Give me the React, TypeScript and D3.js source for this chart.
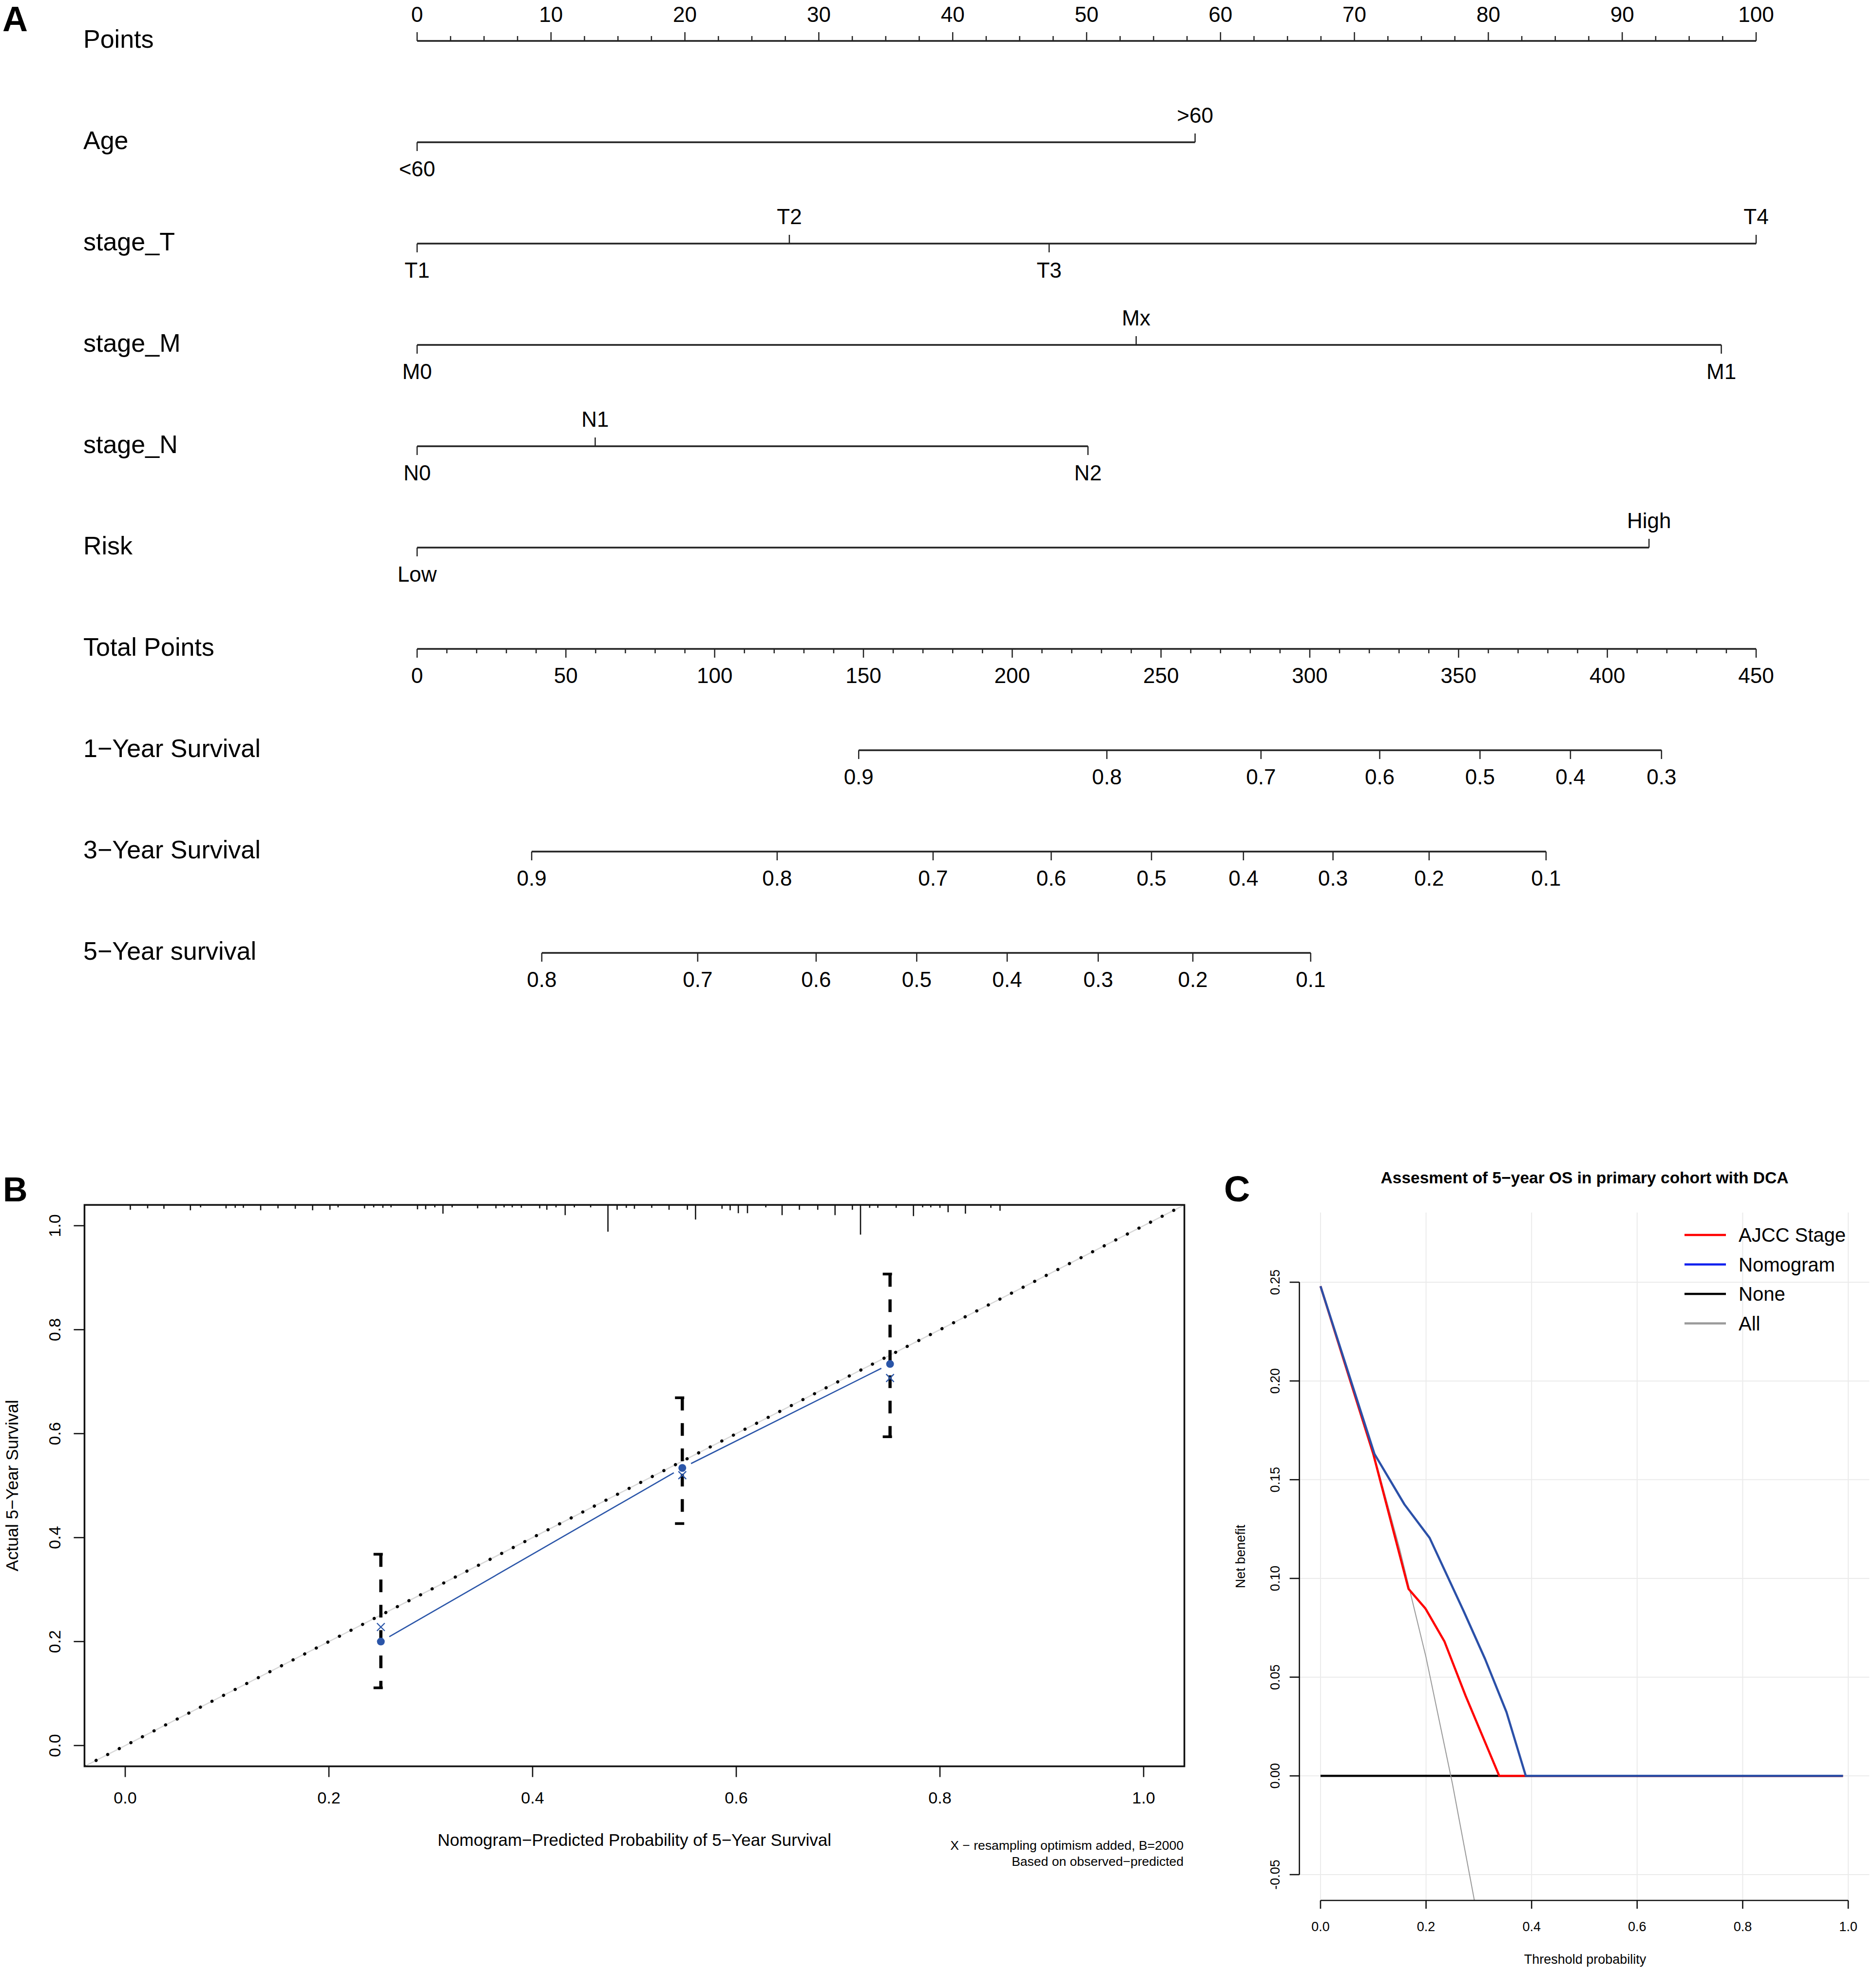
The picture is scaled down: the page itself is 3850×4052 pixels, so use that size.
import React from "react";
import * as d3 from "d3";

const FONT = "'Liberation Sans', Arial, Helvetica, sans-serif";

// ---------------- Panel A : nomogram ----------------
const rowNames = [
  "Points", "Age", "stage_T", "stage_M", "stage_N", "Risk",
  "Total Points", "1−Year Survival", "3−Year Survival", "5−Year survival",
];
const pointsMajor = [0, 10, 20, 30, 40, 50, 60, 70, 80, 90, 100];
const pointsMinorStep = 2.5;

const ageLevels = ["<60", ">60"];
const agePoints = [0, 58.1];
const stageTLevels = ["T1", "T2", "T3", "T4"];
const stageTPoints = [0, 27.8, 47.2, 100];
const stageMLevels = ["M0", "Mx", "M1"];
const stageMPoints = [0, 53.7, 97.4];
const stageNLevels = ["N0", "N1", "N2"];
const stageNPoints = [0, 13.3, 50.1];
const riskLevels = ["Low", "High"];
const riskPoints = [0, 92.0];

const totalMajor = [0, 50, 100, 150, 200, 250, 300, 350, 400, 450];
const totalMinorStep = 10;

const surv1Labels = ["0.9", "0.8", "0.7", "0.6", "0.5", "0.4", "0.3"];
const surv1Total = [148.4, 231.8, 283.6, 323.5, 357.2, 387.6, 418.2];
const surv3Labels = ["0.9", "0.8", "0.7", "0.6", "0.5", "0.4", "0.3", "0.2", "0.1"];
const surv3Total = [38.5, 121.0, 173.4, 213.1, 246.8, 277.7, 307.8, 340.1, 379.4];
const surv5Labels = ["0.8", "0.7", "0.6", "0.5", "0.4", "0.3", "0.2", "0.1"];
const surv5Total = [41.9, 94.3, 134.1, 167.9, 198.3, 228.9, 260.7, 300.3];

// ---------------- Panel B : calibration ----------------
const calTicks = [0, 0.2, 0.4, 0.6, 0.8, 1.0];
const calPredicted = [0.251, 0.547, 0.751];
const calObserved = [0.2, 0.534, 0.734];
const calCorrected = [0.228, 0.52, 0.707];
const calLower = [0.111, 0.427, 0.594];
const calUpper = [0.368, 0.669, 0.907];
const rugProb = [
  0.005, 0.022, 0.038, 0.064, 0.074, 0.099, 0.108, 0.116, 0.133, 0.15, 0.167, 0.184,
  0.201, 0.209, 0.235, 0.244, 0.253, 0.261, 0.287, 0.295, 0.304, 0.312, 0.321, 0.346,
  0.364, 0.372, 0.38, 0.389, 0.407, 0.414, 0.423, 0.432, 0.441, 0.457, 0.474, 0.483,
  0.492, 0.5, 0.517, 0.534, 0.552, 0.56, 0.586, 0.594, 0.602, 0.611, 0.629, 0.645,
  0.662, 0.68, 0.697, 0.714, 0.722, 0.731, 0.739, 0.757, 0.774, 0.783, 0.791, 0.8,
  0.808, 0.825, 0.85, 0.859,
];
const rugFreq = [
  7, 4, 5, 8, 2, 4, 3, 3, 8, 4, 5, 8,
  7, 2, 4, 2, 3, 2, 6, 6, 2, 15, 2, 4,
  4, 2, 2, 3, 4, 7, 2, 18, 2, 2, 52, 7,
  3, 5, 3, 7, 7, 27, 5, 8, 14, 14, 2, 18,
  7, 7, 18, 7, 58, 3, 3, 3, 20, 2, 2, 3,
  12, 15, 3, 9,
];

// ---------------- Panel C : decision curve ----------------
const dcaXTicks = [0, 0.2, 0.4, 0.6, 0.8, 1.0];
const dcaYTicks = [-0.05, 0, 0.05, 0.1, 0.15, 0.2, 0.25];
const allThreshold = [0, 0.05, 0.1, 0.15, 0.2, 0.25, 0.3];
const allBenefit = [0.248, 0.207, 0.164, 0.115, 0.06, -0.004, -0.075];
const noneThreshold = [0, 0.99];
const noneBenefit = [0, 0];
const ajccThreshold = [0, 0.1, 0.1668, 0.199, 0.235, 0.275, 0.3387, 0.39, 0.99];
const ajccBenefit = [0.248, 0.163, 0.0947, 0.0847, 0.068, 0.0405, 0, 0, 0];
const nomoThreshold = [0, 0.1023, 0.159, 0.2068, 0.2715, 0.312, 0.3524, 0.389, 0.99];
const nomoBenefit = [0.248, 0.163, 0.1375, 0.1205, 0.0833, 0.0591, 0.0323, 0, 0];
const legendNames = ["AJCC Stage", "Nomogram", "None", "All"];
const legendColors = ["#ff0000", "#1020ee", "#000000", "#9a9a9a"];

export default function App() {
  const W = 3850;
  const H = 4052;

  // ===== Panel A scales =====
  const xPts = d3.scaleLinear().domain([0, 100]).range([856, 3604]);
  const xTot = d3.scaleLinear().domain([0, 450]).range([856, 3604]);
  const rowY = (i: number) => 84 + i * 208;
  const labelFs = 52;
  const tickFs = 44;
  const axisW = 3.5;
  const tickW = 2.5;

  const pointsMinor = d3.range(0, 100 + 1e-9, pointsMinorStep);
  const totalMinor = d3.range(0, 450 + 1e-9, totalMinorStep);

  const catRow = (i: number, levels: string[], pts: number[]) => {
    const y = rowY(i);
    const order = d3.range(levels.length).sort((a, b) => pts[a] - pts[b]);
    const lo = d3.min(pts) as number;
    const hi = d3.max(pts) as number;
    return (
      <g key={"cat" + i}>
        <line x1={xPts(lo)} x2={xPts(hi)} y1={y} y2={y} stroke="#222" strokeWidth={axisW} />
        {order.map((k, j) => {
          const above = j % 2 === 1;
          const x = xPts(pts[k]);
          return (
            <g key={k}>
              <line x1={x} x2={x} y1={y} y2={above ? y - 18 : y + 18} stroke="#222" strokeWidth={tickW} />
              <text x={x} y={above ? y - 40 : y + 70} textAnchor="middle" fontSize={tickFs}>
                {levels[k]}
              </text>
            </g>
          );
        })}
      </g>
    );
  };

  const survRow = (i: number, labels: string[], totals: number[]) => {
    const y = rowY(i);
    const lo = d3.min(totals) as number;
    const hi = d3.max(totals) as number;
    return (
      <g key={"surv" + i}>
        <line x1={xTot(lo)} x2={xTot(hi)} y1={y} y2={y} stroke="#222" strokeWidth={axisW} />
        {totals.map((t, k) => (
          <g key={k}>
            <line x1={xTot(t)} x2={xTot(t)} y1={y} y2={y + 18} stroke="#222" strokeWidth={tickW} />
            <text x={xTot(t)} y={y + 70} textAnchor="middle" fontSize={tickFs}>
              {labels[k]}
            </text>
          </g>
        ))}
      </g>
    );
  };

  // ===== Panel B scales =====
  const xB = d3.scaleLinear().domain([-0.04, 1.04]).range([173.4, 2430.6]);
  const yB = d3.scaleLinear().domain([-0.04, 1.04]).range([3625.7, 2473.3]);
  const rugLen = d3.scaleLinear().domain([0, 58]).range([0, 58]);
  const blueB = "#2a55a8";
  const calPts = calPredicted.map((p, i) => [xB(p), yB(calObserved[i])] as [number, number]);
  const gap = 20;
  const calSegs = d3.range(calPts.length - 1).map((i) => {
    const a = calPts[i];
    const b = calPts[i + 1];
    const dx = b[0] - a[0];
    const dy = b[1] - a[1];
    const len = Math.hypot(dx, dy);
    const ux = dx / len;
    const uy = dy / len;
    return [
      [a[0] + ux * gap, a[1] + uy * gap],
      [b[0] - ux * gap, b[1] - uy * gap],
    ] as [number, number][];
  });
  const lineGen = d3.line<[number, number]>();

  // ===== Panel C scales =====
  const xC = d3.scaleLinear().domain([0, 1]).range([2710, 3793]);
  const yC = d3.scaleLinear().domain([-0.05, 0.25]).range([3848, 2632]);
  const regionC = { x0: xC(-0.04), x1: xC(1.04), y0: 2489, y1: 3901 };
  const dcaLine = (xs: number[], ys: number[]) =>
    d3
      .line<number>()
      .x((_, i) => xC(xs[i]))
      .y((_, i) => yC(ys[i]))(xs) as string;

  return (
    <svg
      width={W}
      height={H}
      viewBox={`0 0 ${W} ${H}`}
      style={{ position: "absolute", left: 0, top: 0, background: "#fff" }}
      fontFamily={FONT}
    >
      <rect x={0} y={0} width={W} height={H} fill="#fff" />
      <defs>
        <clipPath id="clipC">
          <rect x={regionC.x0} y={regionC.y0} width={regionC.x1 - regionC.x0} height={regionC.y1 - regionC.y0} />
        </clipPath>
        <clipPath id="clipB">
          <rect x={xB(-0.04)} y={yB(1.04)} width={xB(1.04) - xB(-0.04)} height={yB(-0.04) - yB(1.04)} />
        </clipPath>
      </defs>

      {/* ================= Panel A ================= */}
      <text x={5} y={64} fontSize={72} fontWeight="bold">A</text>
      {rowNames.map((n, i) => (
        <text key={n} x={171} y={rowY(i) + 14} fontSize={labelFs}>
          {n}
        </text>
      ))}

      {/* Points axis */}
      <g>
        <line x1={xPts(0)} x2={xPts(100)} y1={rowY(0)} y2={rowY(0)} stroke="#222" strokeWidth={axisW} />
        {pointsMinor.map((v) => (
          <line
            key={v}
            x1={xPts(v)}
            x2={xPts(v)}
            y1={rowY(0)}
            y2={rowY(0) - (v % 10 === 0 ? 18 : 10)}
            stroke="#222"
            strokeWidth={tickW}
          />
        ))}
        {pointsMajor.map((v) => (
          <text key={v} x={xPts(v)} y={rowY(0) - 39} textAnchor="middle" fontSize={tickFs}>
            {v}
          </text>
        ))}
      </g>

      {catRow(1, ageLevels, agePoints)}
      {catRow(2, stageTLevels, stageTPoints)}
      {catRow(3, stageMLevels, stageMPoints)}
      {catRow(4, stageNLevels, stageNPoints)}
      {catRow(5, riskLevels, riskPoints)}

      {/* Total points axis */}
      <g>
        <line x1={xTot(0)} x2={xTot(450)} y1={rowY(6)} y2={rowY(6)} stroke="#222" strokeWidth={axisW} />
        {totalMinor.map((v) => (
          <line
            key={v}
            x1={xTot(v)}
            x2={xTot(v)}
            y1={rowY(6)}
            y2={rowY(6) + (v % 50 === 0 ? 18 : 9)}
            stroke="#222"
            strokeWidth={tickW}
          />
        ))}
        {totalMajor.map((v) => (
          <text key={v} x={xTot(v)} y={rowY(6) + 70} textAnchor="middle" fontSize={tickFs}>
            {v}
          </text>
        ))}
      </g>

      {survRow(7, surv1Labels, surv1Total)}
      {survRow(8, surv3Labels, surv3Total)}
      {survRow(9, surv5Labels, surv5Total)}

      {/* ================= Panel B ================= */}
      <text x={6} y={2466} fontSize={70} fontWeight="bold">B</text>
      {/* rug histogram along top */}
      {rugProb.map((p, i) => (
        <line
          key={"rug" + i}
          x1={xB(p)}
          x2={xB(p)}
          y1={yB(1.04)}
          y2={yB(1.04) + 3 + rugLen(rugFreq[i])}
          stroke="#111"
          strokeWidth={2.6}
        />
      ))}
      {/* ideal diagonal */}
      <g clipPath="url(#clipB)">
        <line x1={xB(-0.04)} y1={yB(-0.04)} x2={xB(1.04)} y2={yB(1.04)} stroke="#d8d8d8" strokeWidth={2.5} />
        <line
          x1={xB(-0.04)}
          y1={yB(-0.04)}
          x2={xB(1.04)}
          y2={yB(1.04)}
          stroke="#000"
          strokeWidth={6.5}
          strokeLinecap="round"
          strokeDasharray="0.1 26.6"
        />
      </g>
      {/* error bars */}
      {calPredicted.map((p, i) => (
        <g key={"eb" + i}>
          <line
            x1={xB(p)}
            x2={xB(p)}
            y1={yB(calUpper[i])}
            y2={yB(calLower[i])}
            stroke="#000"
            strokeWidth={6.5}
            strokeDasharray="26 26"
          />
          <line x1={xB(p) - 15} x2={xB(p) + 4} y1={yB(calUpper[i])} y2={yB(calUpper[i])} stroke="#000" strokeWidth={5.5} />
          <line x1={xB(p) - 15} x2={xB(p) + 4} y1={yB(calLower[i])} y2={yB(calLower[i])} stroke="#000" strokeWidth={5.5} />
        </g>
      ))}
      {/* observed line type b */}
      {calSegs.map((s, i) => (
        <path key={"seg" + i} d={lineGen(s) as string} fill="none" stroke={blueB} strokeWidth={2.6} />
      ))}
      {calPts.map((c, i) => (
        <circle key={"pt" + i} cx={c[0]} cy={c[1]} r={8} fill={blueB} />
      ))}
      {calPredicted.map((p, i) => {
        const cx = xB(p);
        const cy = yB(calCorrected[i]);
        const s = 8;
        return (
          <g key={"x" + i} stroke={blueB} strokeWidth={2.4}>
            <line x1={cx - s} y1={cy - s} x2={cx + s} y2={cy + s} />
            <line x1={cx - s} y1={cy + s} x2={cx + s} y2={cy - s} />
          </g>
        );
      })}
      {/* box */}
      <rect
        x={xB(-0.04)}
        y={yB(1.04)}
        width={xB(1.04) - xB(-0.04)}
        height={yB(-0.04) - yB(1.04)}
        fill="none"
        stroke="#111"
        strokeWidth={3.5}
      />
      {/* axes */}
      {calTicks.map((t) => (
        <g key={"bx" + t}>
          <line x1={xB(t)} x2={xB(t)} y1={yB(-0.04)} y2={yB(-0.04) + 22} stroke="#111" strokeWidth={2.6} />
          <text x={xB(t)} y={3702} textAnchor="middle" fontSize={34}>
            {t.toFixed(1)}
          </text>
          <line x1={xB(-0.04)} x2={xB(-0.04) - 22} y1={yB(t)} y2={yB(t)} stroke="#111" strokeWidth={2.6} />
          <text transform={`translate(124,${yB(t)}) rotate(-90)`} textAnchor="middle" fontSize={34}>
            {t.toFixed(1)}
          </text>
        </g>
      ))}
      <text x={1302} y={3789} textAnchor="middle" fontSize={35}>
        Nomogram−Predicted Probability of 5−Year Survival
      </text>
      <text transform={`translate(37,${(yB(-0.04) + yB(1.04)) / 2}) rotate(-90)`} textAnchor="middle" fontSize={35}>
        Actual 5−Year Survival
      </text>
      <text x={2429} y={3797} textAnchor="end" fontSize={26.5}>
        X − resampling optimism added, B=2000
      </text>
      <text x={2429} y={3830} textAnchor="end" fontSize={26.5}>
        Based on observed−predicted
      </text>

      {/* ================= Panel C ================= */}
      <text x={2512} y={2466} fontSize={74} fontWeight="bold">C</text>
      <text x={3252} y={2429} textAnchor="middle" fontSize={33.5} fontWeight="bold">
        Assesment of 5−year OS in primary cohort with DCA
      </text>
      {/* grid */}
      {dcaXTicks.map((t) => (
        <line key={"gx" + t} x1={xC(t)} x2={xC(t)} y1={regionC.y0} y2={regionC.y1} stroke="#ebebeb" strokeWidth={2} />
      ))}
      {dcaYTicks.map((t) => (
        <line key={"gy" + t} x1={regionC.x0} x2={regionC.x1} y1={yC(t)} y2={yC(t)} stroke="#ebebeb" strokeWidth={2} />
      ))}
      {/* curves */}
      <g clipPath="url(#clipC)" fill="none" strokeLinejoin="round">
        <path d={dcaLine(noneThreshold, noneBenefit)} stroke="#000" strokeWidth={4.5} />
        <path d={dcaLine(allThreshold, allBenefit)} stroke="#9a9a9a" strokeWidth={2} />
        <path d={dcaLine(ajccThreshold, ajccBenefit)} stroke="#ff0000" strokeWidth={4.5} />
        <path d={dcaLine(nomoThreshold, nomoBenefit)} stroke="#2b50a8" strokeWidth={4.5} />
      </g>
      {/* axes */}
      <line x1={xC(0)} x2={xC(1)} y1={regionC.y1} y2={regionC.y1} stroke="#111" strokeWidth={2.6} />
      {dcaXTicks.map((t) => (
        <g key={"cx" + t}>
          <line x1={xC(t)} x2={xC(t)} y1={regionC.y1} y2={regionC.y1 + 17} stroke="#111" strokeWidth={2.6} />
          <text x={xC(t)} y={3964} textAnchor="middle" fontSize={27}>
            {t.toFixed(1)}
          </text>
        </g>
      ))}
      <line x1={regionC.x0} x2={regionC.x0} y1={yC(-0.05)} y2={yC(0.25)} stroke="#111" strokeWidth={2.6} />
      {dcaYTicks.map((t) => (
        <g key={"cy" + t}>
          <line x1={regionC.x0} x2={regionC.x0 - 20} y1={yC(t)} y2={yC(t)} stroke="#111" strokeWidth={2.6} />
          <text transform={`translate(2626,${yC(t)}) rotate(-90)`} textAnchor="middle" fontSize={27}>
            {t.toFixed(2)}
          </text>
        </g>
      ))}
      <text x={3253} y={4031} textAnchor="middle" fontSize={27}>
        Threshold probability
      </text>
      <text transform={`translate(2555,${(regionC.y0 + regionC.y1) / 2}) rotate(-90)`} textAnchor="middle" fontSize={27}>
        Net benefit
      </text>
      {/* legend */}
      {legendNames.map((n, i) => {
        const y = 2535 + i * 60.5;
        return (
          <g key={n}>
            <line x1={3457} x2={3542} y1={y} y2={y} stroke={legendColors[i]} strokeWidth={4.5} />
            <text x={3568} y={y + 14} fontSize={40}>
              {n}
            </text>
          </g>
        );
      })}
    </svg>
  );
}
